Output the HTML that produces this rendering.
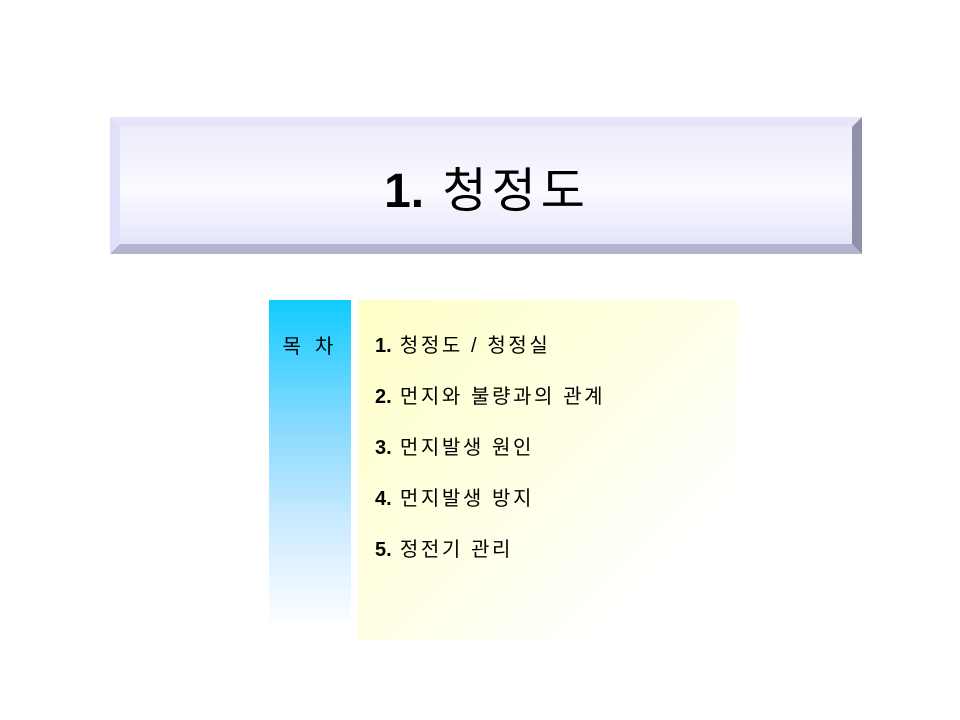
<!DOCTYPE html>
<html><head><meta charset="utf-8"><style>
body{margin:0;width:960px;height:720px;background:#fff;position:relative;overflow:hidden;font-family:"Liberation Sans","Noto Sans CJK KR","NanumGothic",sans-serif}
.abs{position:absolute}
#title-box{left:110px;top:117px;width:752px;height:137px;background:#e0e0f8}
#title-face{left:10px;top:10px;right:10px;bottom:10px;background:linear-gradient(#ececfc,#fafaff 55%,#e4e4fa)}
#bev-b{left:0;bottom:0;width:100%;height:10px;background:#b4b4d0;clip-path:polygon(0 100%,10px 0,calc(100% - 10px) 0,100% 100%)}
#bev-r{right:0;top:0;width:10px;height:100%;background:#9090a8;clip-path:polygon(100% 0,0 10px,0 calc(100% - 10px),100% 100%)}
#bev-t{left:0;top:0;width:100%;height:10px;background:#e6e6f8;clip-path:polygon(0 0,100% 0,calc(100% - 10px) 100%,10px 100%)}
#title-text{left:0;right:0;top:34px;text-align:center;font-size:48px;color:#000;letter-spacing:5px;padding-left:2px}
#title-text b{font-weight:bold;letter-spacing:0}
#toc-side{left:269px;top:300px;width:82px;height:330px;background:linear-gradient(#10ccff,#80d8ff 35%,#d0ecff 70%,#fff)}
#toc-label{left:0;right:0;top:30px;text-align:center;font-size:20px;letter-spacing:14px;padding-left:10px}
#toc-main{left:358px;top:300px;width:380px;height:340px;background:linear-gradient(135deg,#ffffc8,#ffffe4 45%,#fff 80%)}
.item{left:17px;font-size:20px;color:#000;white-space:nowrap;letter-spacing:2.6px}
.item b{font-weight:bold;letter-spacing:0}
</style></head><body>
<div class="abs" id="title-box">
<div class="abs" id="bev-t"></div>
<div class="abs" id="bev-b"></div>
<div class="abs" id="bev-r"></div>
<div class="abs" id="title-face"></div>
<div class="abs" id="title-text"><b>1.</b> 청정도</div>
</div>
<div class="abs" id="toc-side">
<div class="abs" id="toc-label">목차</div>
</div>
<div class="abs" id="toc-main">
<div class="abs item" style="top:29px"><b>1.</b> 청정도 / 청정실</div>
<div class="abs item" style="top:80px"><b>2.</b> 먼지와 불량과의 관계</div>
<div class="abs item" style="top:131px"><b>3.</b> 먼지발생 원인</div>
<div class="abs item" style="top:182px"><b>4.</b> 먼지발생 방지</div>
<div class="abs item" style="top:233px"><b>5.</b> 정전기 관리</div>
</div>
</body></html>
